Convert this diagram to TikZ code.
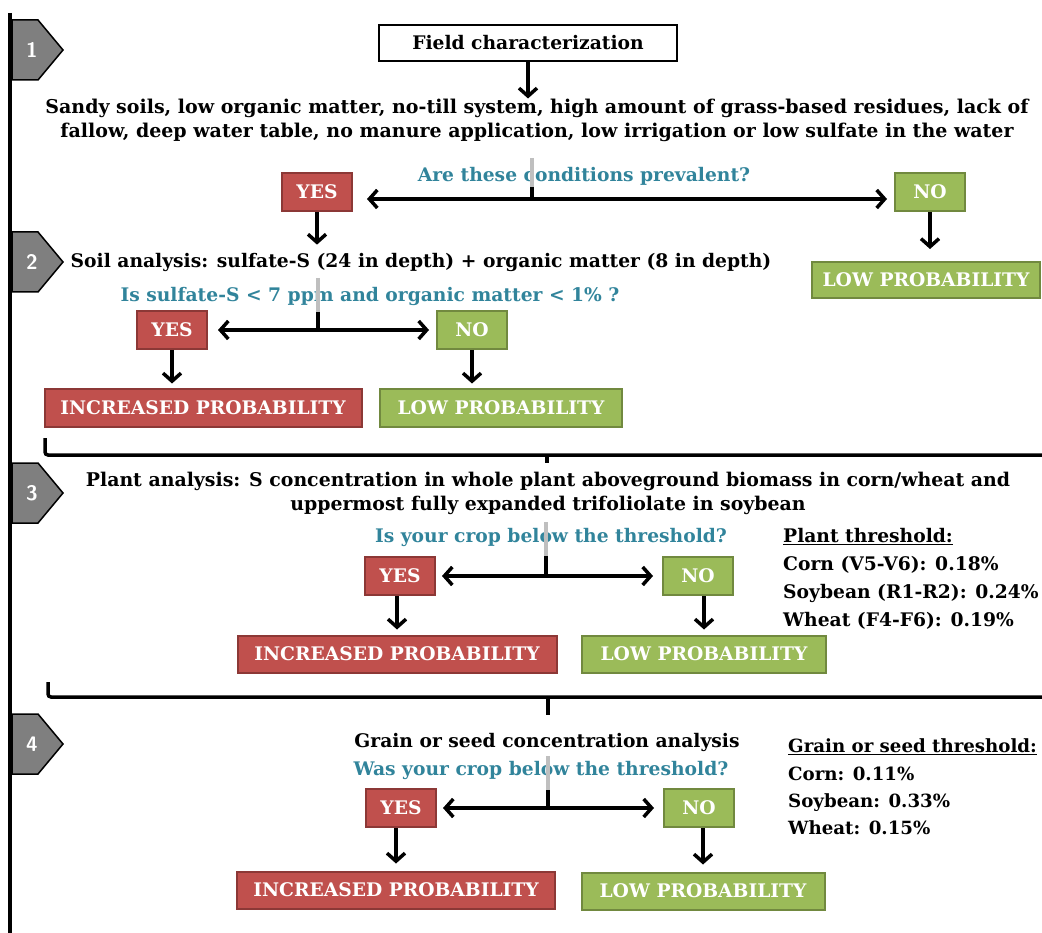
\documentclass[tikz,border=0pt]{standalone}
\usepackage{fontspec}
\setmainfont{DejaVu Serif}
\usepackage{tikz}
\usetikzlibrary{arrows.meta}
\usetikzlibrary{positioning}
\definecolor{mred}{HTML}{C0504D}
\definecolor{mredline}{HTML}{8C3836}
\definecolor{mgreen}{HTML}{9BBB59}
\definecolor{mgreenline}{HTML}{71893F}
\definecolor{mteal}{HTML}{31849B}
\definecolor{mgrey}{HTML}{7F7F7F}
\definecolor{mstem}{HTML}{BFBFBF}
\newcommand{\bodyfont}{\fontsize{18.7}{24}\selectfont\bfseries}
\tikzset{arr/.style = {-{Straight Barb[length=8pt, width=18pt]}, line width = 3.5pt},
         yesbox/.style = {draw = mredline, fill = mred, line width = 2pt, text = white,
                          font = \bodyfont, minimum width = 70pt, minimum height = 38pt},
         nobox/.style = {yesbox, draw = mgreenline, fill = mgreen},
         txt/.style = {font = \bodyfont, inner sep = 0pt, align = center},
         question/.style = {txt, text = mteal},
         stem/.style = {line width = 3.5pt, mstem},
         bracket/.style = {line width = 3.5pt, rounded corners = 3pt}}

\begin{document}
\begin{tikzpicture}[x = 1pt, y = -1pt]
  \useasboundingbox (0, 0) rectangle (1042, 933);

  \draw [line width = 4pt] (10, 13) -- (10, 933);
  \foreach \n/\y in {1/50, 2/262, 3/493, 4/744} {
    \draw [fill = mgrey, line width = 1.5pt] (12, \y-30) -- (38, \y-30) -- (63, \y)
      -- (38, \y+30) -- (12, \y+30) -- cycle;
    \node [text = white, font = \fontsize{21}{24}\selectfont\sffamily\bfseries] (step\n) at (32, \y) {\n};
  }

  % step 1
  \node [txt, draw, line width = 2pt, minimum width = 298pt, minimum height = 36pt] (field) at (528, 43) {Field characterization};
  \node [txt, font = \fontsize{19}{24}\selectfont\bfseries] (cond) at (537, 120) {Sandy soils, low organic matter, no-till system, high amount of grass-based residues, lack of\\
    fallow, deep water table, no manure application, low irrigation or low sulfate in the water};
  \draw [arr] (field) -- (field |- cond.north);
  \node [question] (q1) at (584, 176) {Are these conditions prevalent?};
  \node [yesbox] (yes1) at (317, 192) {YES};
  \node [nobox] (no1) at (930, 192) {NO};
  \node [nobox, minimum width = 228pt, minimum height = 36pt] (low1) at (926, 280) {LOW PROBABILITY};
  \coordinate (j1) at (532, 199);
  \draw [stem] (532, 158) -- (532, 187);
  \draw [line width = 3.5pt] (532, 187) -- (j1);
  \draw [arr, shorten > = 14pt] (j1) -- (j1 -| yes1.east);
  \draw [arr, shorten > = 7pt] (j1) -- (j1 -| no1.west);
  \draw [arr] (no1) -- (no1 |- 0, 249);

  % step 2
  \node [txt] (soil) at (421, 262) {Soil analysis: sulfate-S (24 in depth) + organic matter (8 in depth)};
  \draw [arr, shorten > = 8pt] (yes1) -- (yes1 |- soil.north);
  \node [question] (q2) at (370, 296) {Is sulfate-S < 7 ppm and organic matter < 1\% ?};
  \node [yesbox] (yes2) at (172, 330) {YES};
  \node [nobox] (no2) at (472, 330) {NO};
  \coordinate (j2) at (318, 330);
  \draw [stem] (318, 278) -- (318, 312);
  \draw [line width = 3.5pt] (318, 312) -- (j2);
  \draw [arr, shorten > = 10pt] (j2) -- (yes2);
  \draw [arr, shorten > = 7pt] (j2) -- (no2);
  \node [yesbox, minimum width = 317pt, minimum height = 37pt] (inc2) at (203, 408) {INCREASED PROBABILITY};
  \node [nobox, minimum width = 242pt, minimum height = 37pt] (low2) at (501, 408) {LOW PROBABILITY};
  \draw [arr, shorten > = 5pt] (yes2) -- (yes2 |- inc2.north);
  \draw [arr, shorten > = 5pt] (no2) -- (no2 |- low2.north);
  \draw [bracket] (45, 438) -- (45, 455) -- (1042, 455);
  \draw [line width = 3.5pt] (547, 455) -- (547, 463);

  % step 3
  \node [txt, font = \fontsize{18.9}{24}\selectfont\bfseries] (plant) at (548, 493) {Plant analysis: S concentration in whole plant aboveground biomass in corn/wheat and\\
    uppermost fully expanded trifoliolate in soybean};
  \node [question] (q3) at (551, 537) {Is your crop below the threshold?};
  \node [yesbox] (yes3) at (400, 576) {YES};
  \node [nobox] (no3) at (698, 576) {NO};
  \coordinate (j3) at (546, 576);
  \draw [stem] (546, 522) -- (546, 556);
  \draw [line width = 3.5pt] (546, 556) -- (j3);
  \draw [arr, shorten > = 6pt] (j3) -- (yes3);
  \draw [arr, shorten > = 9pt] (j3) -- (no3);
  \node [yesbox, minimum width = 319pt, minimum height = 37pt] (inc3) at (397, 654) {INCREASED PROBABILITY};
  \node [nobox, minimum width = 244pt, minimum height = 37pt] (low3) at (704, 654) {LOW PROBABILITY};
  \draw [arr, shorten > = 5pt] (yes3.south -| inc3) -- (inc3);
  \draw [arr, shorten > = 5pt] (no3.south -| low3) -- (low3);
  \node [txt, anchor = west, align = left, font = \fontsize{18.7}{28}\selectfont\bfseries] (thr3) at (783, 579)
    {\underline{Plant threshold:}\\ Corn (V5-V6): 0.18\%\\ Soybean (R1-R2): 0.24\%\\ Wheat (F4-F6): 0.19\%};
  \draw [bracket] (48, 682) -- (48, 697) -- (1042, 697);
  \draw [line width = 3.5pt] (548, 697) -- (548, 715);

  % step 4
  \node [txt] (grain) at (547, 742) {Grain or seed concentration analysis};
  \node [question] (q4) at (541, 770) {Was your crop below the threshold?};
  \node [yesbox] (yes4) at (401, 808) {YES};
  \node [nobox] (no4) at (699, 808) {NO};
  \coordinate (j4) at (548, 808);
  \draw [stem] (548, 756) -- (548, 790);
  \draw [line width = 3.5pt] (548, 790) -- (j4);
  \draw [arr, shorten > = 6pt] (j4) -- (yes4);
  \draw [arr, shorten > = 9pt] (j4) -- (no4);
  \node [yesbox, minimum width = 318pt, minimum height = 37pt] (inc4) at (396, 890) {INCREASED PROBABILITY};
  \node [nobox, minimum width = 243pt, minimum height = 37pt] (low4) at (703, 891) {LOW PROBABILITY};
  \draw [arr, shorten > = 7pt] (yes4.south -| inc4) -- (inc4);
  \draw [arr, shorten > = 7pt] (no4.south -| low4) -- (low4);
  \node [txt, anchor = west, align = left, font = \fontsize{18.2}{27.3}\selectfont\bfseries] (thr4) at (788, 787)
    {\underline{Grain or seed threshold:}\\ Corn: 0.11\%\\ Soybean: 0.33\%\\ Wheat: 0.15\%};
\end{tikzpicture}
\end{document}
